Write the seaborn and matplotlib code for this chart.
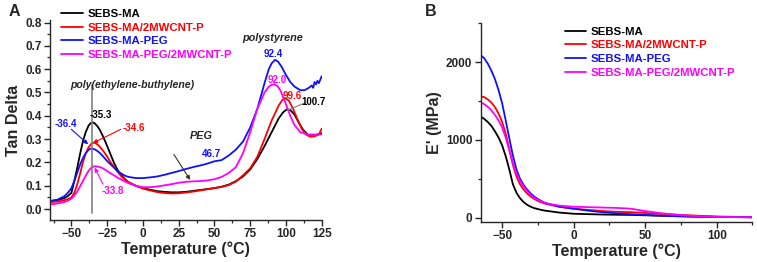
import numpy as np
import pandas as pd
import matplotlib
matplotlib.use("Agg")
import matplotlib.pyplot as plt
from matplotlib.ticker import MultipleLocator
import seaborn as sns

# === DATA ===
names = ["SEBS-MA", "SEBS-MA/2MWCNT-P", "SEBS-MA-PEG", "SEBS-MA-PEG/2MWCNT-P"]
colors = ["#000000", "#ff0000", "#1010ff", "#ff00ff"]

# Panel A: tan delta vs temperature
t_black = [-65, -60, -55, -52.5, -50, -48, -46, -44, -42, -40, -38, -36.5, -35.3, -34, -32, -30, -28, -26,
           -24, -22, -20, -17.5, -15, -12.5, -10, -5, 0, 5, 10, 15, 20, 25, 30, 35, 40, 45, 50, 55, 60,
           65, 70, 75, 80, 85, 90, 95, 98, 100.7, 103, 106, 109, 112, 115, 118, 121, 125]
tan_black = [0.034, 0.038, 0.047, 0.056, 0.07, 0.12, 0.175, 0.235, 0.29, 0.33, 0.358, 0.369, 0.372, 0.369,
             0.357, 0.338, 0.313, 0.285, 0.255, 0.225, 0.195, 0.165, 0.145, 0.128, 0.115, 0.1, 0.09,
             0.083, 0.077, 0.074, 0.072, 0.072, 0.074, 0.078, 0.082, 0.086, 0.09, 0.096, 0.105, 0.12,
             0.14, 0.17, 0.215, 0.27, 0.33, 0.39, 0.415, 0.428, 0.425, 0.405, 0.37, 0.34, 0.32, 0.315,
             0.318, 0.325]

t_red = [-65, -60, -55, -52.5, -50, -48, -46, -44, -42, -40, -38, -36, -34.6, -33, -31, -29, -27, -25,
         -22.5, -20, -17.5, -15, -12.5, -10, -5, 0, 5, 10, 15, 20, 25, 30, 35, 40, 45, 50, 55, 60, 65,
         70, 75, 80, 85, 90, 95, 97.5, 99.6, 102, 105, 108, 111, 114, 117, 120, 123, 125]
tan_red = [0.03, 0.032, 0.038, 0.043, 0.05, 0.07, 0.105, 0.15, 0.2, 0.238, 0.265, 0.281, 0.285, 0.282,
           0.273, 0.259, 0.243, 0.225, 0.2, 0.178, 0.158, 0.14, 0.126, 0.115, 0.1, 0.088, 0.08, 0.073,
           0.069, 0.067, 0.068, 0.071, 0.075, 0.08, 0.085, 0.09, 0.095, 0.103, 0.118, 0.145, 0.175,
           0.225, 0.3, 0.38, 0.445, 0.468, 0.475, 0.465, 0.43, 0.385, 0.345, 0.32, 0.31, 0.312, 0.32,
           0.345]

t_blue = [-65, -60, -55, -52.5, -50, -48, -46, -44, -42, -40, -38, -36.4, -34, -32, -30, -28, -26, -24,
          -22, -20, -17.5, -15, -12.5, -10, -5, 0, 5, 10, 15, 20, 25, 30, 35, 40, 45, 50, 55, 60, 65,
          70, 75, 80, 85, 88, 90, 92.4, 94.5, 97, 100, 103, 106, 110, 113, 116, 118, 119, 120, 121,
          122, 123, 124, 125]
tan_blue = [0.035, 0.04, 0.055, 0.07, 0.09, 0.12, 0.155, 0.19, 0.218, 0.24, 0.254, 0.26, 0.257, 0.25,
            0.24, 0.227, 0.213, 0.2, 0.188, 0.177, 0.162, 0.152, 0.143, 0.138, 0.133, 0.133, 0.136,
            0.14, 0.147, 0.155, 0.163, 0.172, 0.18, 0.187, 0.195, 0.205, 0.21, 0.23, 0.255, 0.29,
            0.35, 0.43, 0.54, 0.6, 0.625, 0.64, 0.632, 0.61, 0.575, 0.545, 0.525, 0.51, 0.51, 0.52,
            0.53, 0.52, 0.545, 0.535, 0.55, 0.54, 0.555, 0.57]

t_mag = [-65, -60, -55, -52.5, -50, -48, -46, -44, -42, -40, -38, -36, -33.8, -31, -28, -25, -22.5, -20,
         -17.5, -15, -12.5, -10, -5, 0, 5, 10, 15, 20, 25, 30, 35, 40, 45, 50, 55, 60, 65, 70, 75, 80,
         85, 88, 90, 92, 94, 96, 98, 100, 103, 106, 110, 115, 120, 125]
tan_mag = [0.02, 0.024, 0.03, 0.036, 0.045, 0.058, 0.075, 0.097, 0.12, 0.143, 0.164, 0.178, 0.184, 0.182,
           0.175, 0.163, 0.153, 0.144, 0.134, 0.126, 0.118, 0.111, 0.1, 0.094, 0.094, 0.097, 0.102,
           0.107, 0.113, 0.117, 0.119, 0.12, 0.123, 0.128, 0.138, 0.155, 0.18, 0.24, 0.33, 0.43, 0.5,
           0.525, 0.533, 0.535, 0.528, 0.51, 0.48, 0.45, 0.4, 0.36, 0.33, 0.32, 0.32, 0.32]

# Panel B: storage modulus vs temperature
tb = [-65, -62.5, -60, -57.5, -55, -52.5, -50, -47.5, -45, -42.5, -40, -37.5, -35, -32.5, -30, -27.5,
      -25, -22.5, -20, -10, 0, 10, 20, 30, 40, 50, 60, 70, 80, 100, 125]
e_black = [1300, 1270, 1230, 1180, 1110, 1030, 930, 790, 620, 430, 320, 250, 200, 165, 140, 122, 110,
           99, 90, 65, 50, 45, 40, 37, 35, 30, 25, 20, 15, 10, 5]
e_red = [1560, 1550, 1520, 1480, 1420, 1340, 1230, 1080, 880, 680, 530, 430, 360, 310, 270, 240, 215,
         195, 180, 140, 115, 100, 85, 75, 70, 60, 50, 40, 30, 15, 5]
e_blue = [2090, 2050, 1980, 1890, 1780, 1640, 1470, 1250, 1020, 800, 620, 500, 420, 360, 310, 270, 240,
          212, 190, 140, 115, 90, 70, 55, 45, 35, 25, 20, 15, 8, 5]
e_mag = [1480, 1460, 1425, 1380, 1320, 1250, 1160, 1030, 870, 700, 570, 470, 400, 340, 290, 255, 230,
         205, 185, 155, 140, 135, 130, 125, 115, 85, 60, 40, 25, 10, 5]

# === LONG-FORM TABLES ===
dfa = pd.concat([
    pd.DataFrame({"T": t, "tan": v, "Sample": n})
    for t, v, n in zip([t_black, t_red, t_blue, t_mag], [tan_black, tan_red, tan_blue, tan_mag], names)
])
dfb = pd.concat([
    pd.DataFrame({"T": tb, "E": v, "Sample": n})
    for v, n in zip([e_black, e_red, e_blue, e_mag], names)
])

sns.set_style("ticks")
plt.rcParams["font.family"] = ["Liberation Sans", "DejaVu Sans"]
plt.rcParams["font.weight"] = "bold"
plt.rcParams["axes.linewidth"] = 1.0
pal = dict(zip(names, colors))

fig = plt.figure(figsize=(7.57, 2.62), dpi=100)
axA = fig.add_axes([0.066, 0.160, 0.359, 0.763])
axB = fig.add_axes([0.635, 0.153, 0.359, 0.761])

sns.lineplot(data=dfa, x="T", y="tan", hue="Sample", hue_order=names, palette=pal,
             lw=1.3, ax=axA, estimator=None, sort=False)
sns.lineplot(data=dfb, x="T", y="E", hue="Sample", hue_order=names, palette=pal,
             lw=1.3, ax=axB, estimator=None, sort=False)

# === AXES STYLE ===
axA.set_ylim(-0.047, 0.81)
axA.xaxis.set_major_locator(MultipleLocator(25))
axA.xaxis.set_minor_locator(MultipleLocator(12.5))
axA.set_yticks(np.arange(0, 0.81, 0.1))
axA.set_yticklabels([f"{v:.1f}" for v in np.arange(0, 0.81, 0.1)])
axA.yaxis.set_minor_locator(MultipleLocator(0.05))
axA.set_ylabel("Tan Delta", fontsize=11.5, fontweight="bold", labelpad=3)

axB.set_ylim(-55, 2510)
axB.xaxis.set_major_locator(MultipleLocator(50))
axB.xaxis.set_minor_locator(MultipleLocator(25))
axB.set_yticks([0, 1000, 2000])
axB.yaxis.set_minor_locator(MultipleLocator(500))
axB.set_ylabel("E' (MPa)", fontsize=11.5, fontweight="bold", labelpad=3)

for ax in (axA, axB):
    sns.despine(ax=ax)
    ax.set_xlim(-65, 125)
    ax.tick_params(which="major", direction="out", length=4, width=1.0, labelsize=8.5, pad=2)
    ax.tick_params(which="minor", direction="out", length=2, width=0.9)
    for lbl in ax.get_xticklabels() + ax.get_yticklabels():
        lbl.set_fontweight("bold")
    ax.set_xlabel("Temperature (°C)", fontsize=11.5, fontweight="bold", labelpad=1)

# === LEGENDS ===
for ax, anchor in ((axA, (0.081, 0.966)), (axB, (0.746, 0.898))):
    ax.legend(title=None, loc="upper left", bbox_to_anchor=anchor, bbox_transform=fig.transFigure,
              frameon=False, labelcolor="linecolor", prop={"weight": "bold", "size": 8.2},
              handlelength=1.9, handletextpad=0.4, labelspacing=0.33, borderpad=0, borderaxespad=0)

# === ANNOTATIONS, PANEL A ===
axA.plot([-35.3, -35.3], [-0.017, 0.53], color="gray", lw=1.2)
axA.text(-7.5, 0.53, "poly(ethylene-buthylene)", style="italic", fontweight="bold", fontsize=7.6,
         ha="center", va="center")
axA.text(91, 0.735, "polystyrene", style="italic", fontweight="bold", fontsize=7.8, ha="center", va="center")
axA.text(41, 0.312, "PEG", style="italic", fontweight="bold", fontsize=7.8, ha="center", va="center")

small = dict(fontsize=7, fontweight="bold", ha="center", va="center")
axA.text(-29.6, 0.403, "-35.3", color="black", fontsize=7, ha="center", va="center")
axA.text(-53.8, 0.366, "-36.4", color="#1010ff", **small)
axA.text(-6, 0.346, "-34.6", color="red", **small)
axA.text(-21.4, 0.078, "-33.8", color="#ff00ff", **small)
axA.text(48, 0.235, "46.7", color="#1010ff", **small)
axA.text(91.3, 0.667, "92.4", color="#1010ff", **small)
axA.text(93.8, 0.555, "92.0", color="#ff00ff", **small)
axA.text(104.6, 0.485, "99.6", color="red", **small)
axA.text(119.5, 0.46, "100.7", color="black", **small)

arrows = [((-50, 0.342), (-38.3, 0.278), "#1010ff"),
          ((-15.5, 0.342), (-35.0, 0.283), "red"),
          ((-27.9, 0.107), (-33.8, 0.178), "#ff00ff"),
          ((21.6, 0.235), (33, 0.125), "#333333")]
for start, end, c in arrows:
    axA.annotate("", xy=end, xytext=start,
                 arrowprops=dict(arrowstyle="-|>", color=c, lw=0.8, mutation_scale=6,
                                 shrinkA=0, shrinkB=0))
axA.plot([113.4, 101.6], [0.456, 0.425], color="gray", lw=0.8)

# panel letters
fig.text(0.012, 0.955, "A", fontsize=11.5, fontweight="bold", va="center")
fig.text(0.561, 0.955, "B", fontsize=11.5, fontweight="bold", va="center")

fig.savefig("out.png", dpi=100)
